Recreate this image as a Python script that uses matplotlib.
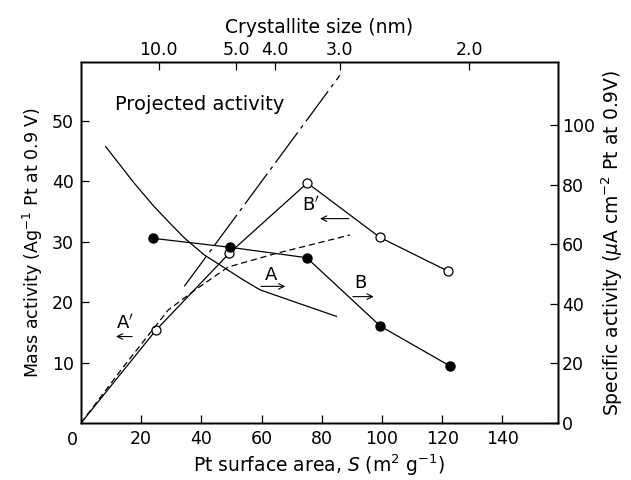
import matplotlib
matplotlib.use("Agg")
import matplotlib.pyplot as plt

plt.rcParams["font.family"] = "DejaVu Sans"
plt.rcParams["mathtext.fontset"] = "dejavusans"

# Pt surface area S (m2/g) and activities
# curve B: specific activity (right axis), filled circles
b_area = [24, 49.5, 75, 99.5, 122.5]
b_specific = [62, 59, 55.5, 32.5, 19.2]

# curve B': mass activity (left axis), open circles, line from origin
bp_area = [0, 24.8, 49.3, 75.2, 99.3, 122]
bp_mass = [0, 15.3, 28.1, 39.7, 30.7, 25.1]

# curve A: specific activity (right axis), smooth solid
a_area = [8.2, 13, 17.3, 24, 30, 34.6, 41, 48.9, 54, 59.5, 72, 84.9]
a_specific = [92.8, 86.6, 81, 73, 66.6, 61.9, 56.4, 51.3, 48, 44.7, 40.3, 35.8]

# curve A': mass activity (left axis), dashed
ap_area = [0, 14.1, 29, 37.9, 48.9, 64.5, 89.4]
ap_mass = [0, 9.3, 18.7, 22, 25.8, 28, 31.1]

# projected activity line (left axis)
proj_area = [34.3, 86]
proj_mass = [22.6, 57.5]

# top axis: crystallite size d (nm), S = k / d
sizes = [10.0, 5.0, 4.0, 3.0, 2.0]
size_labels = ["10.0", "5.0", "4.0", "3.0", "2.0"]
k_size = 258

fig = plt.figure(figsize=(6.31, 4.80), dpi=100)
ax = fig.add_axes([0.1284, 0.11875, 0.7559, 0.752])
ax2 = ax.twinx()

ax.set_xlim(0, 158.5)
ax.set_ylim(0, 59.7)
ax2.set_ylim(0, 121.2)

lw = 0.9
ax.plot(bp_area, bp_mass, color="black", lw=lw)
ax.plot(bp_area[1:], bp_mass[1:], "o", ms=6.5, mfc="white", mec="black", mew=0.9)
ax.plot(ap_area, ap_mass, color="black", lw=lw, ls=(0, (5, 3)))
ax.plot(proj_area, proj_mass, color="black", lw=lw, ls=(0, (30, 4, 3, 4)))

ax2.plot(b_area, b_specific, color="black", lw=lw, marker="o", ms=6.5, mfc="black")
ax2.plot(a_area, a_specific, color="black", lw=lw)

arrow = dict(arrowstyle="->", color="black", lw=0.8)
ax.annotate("", xy=(10.7, 14.3), xytext=(17.9, 14.3), arrowprops=arrow)
ax.annotate("", xy=(68.8, 22.6), xytext=(58.9, 22.6), arrowprops=arrow)
ax.annotate("", xy=(98.2, 20.9), xytext=(89.4, 20.9), arrowprops=arrow)
ax.annotate("", xy=(78.5, 33.8), xytext=(89.9, 33.8), arrowprops=arrow)
ax.text(14.6, 16.6, "A$'$", ha="center", va="center", fontsize=13)
ax.text(63, 24.4, "A", ha="center", va="center", fontsize=13)
ax.text(92.7, 23.2, "B", ha="center", va="center", fontsize=13)
ax.text(76.3, 36.1, "B$'$", ha="center", va="center", fontsize=13)
ax.text(11.2, 52.6, "Projected activity", ha="left", va="center", fontsize=14)

ax.set_xticks([20, 40, 60, 80, 100, 120, 140])
ax.set_yticks([10, 20, 30, 40, 50])
ax2.set_yticks([0, 20, 40, 60, 80, 100])
ax.annotate("0", xy=(0, 0), xytext=(-9, -17), textcoords="offset pixels",
            ha="center", va="center", fontsize=12.5)

top = ax.twiny()
top.set_xlim(ax.get_xlim())
top.set_xticks([k_size / d for d in sizes])
top.set_xticklabels(size_labels)

for a in (ax, ax2, top):
    a.tick_params(direction="in", length=6, width=0.9, labelsize=12.5, pad=5)
    for s in a.spines.values():
        s.set_linewidth(1.0)
ax2.tick_params(pad=3)
top.tick_params(pad=2)

ax.set_xlabel("Pt surface area, $S$ (m$^2$ g$^{-1}$)", fontsize=13.5, labelpad=3)
ax.set_ylabel("Mass activity (Ag$^{-1}$ Pt at 0.9 V)", fontsize=12.5, labelpad=5)
ax2.set_ylabel("Specific activity ($\\mu$A cm$^{-2}$ Pt at 0.9V)", fontsize=13.5, labelpad=3)
top.set_xlabel("Crystallite size (nm)", fontsize=13.5, labelpad=6)

plt.savefig("out.png", dpi=100)
